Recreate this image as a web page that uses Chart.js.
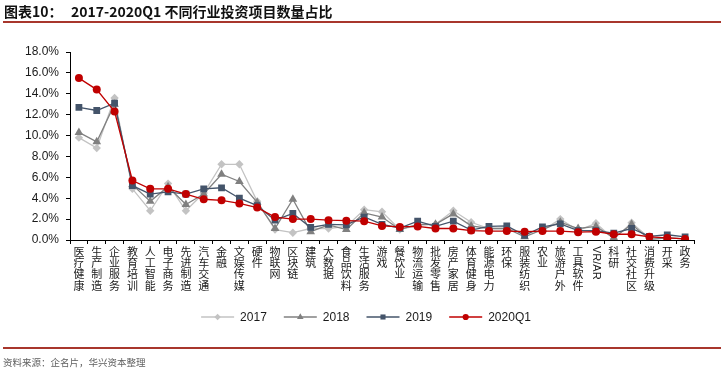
<!DOCTYPE html>
<html><head><meta charset="utf-8">
<script src="https://cdn.jsdelivr.net/npm/chart.js@4/dist/chart.umd.min.js"></script>
<style>
html,body{margin:0;padding:0;background:#fff;width:726px;height:376px;overflow:hidden;position:relative;font-family:"Noto Sans CJK SC",sans-serif;}
#c{position:absolute;left:0;top:0;}
.t1{position:absolute;top:2px;left:4px;font-weight:bold;font-size:14px;color:#111;white-space:nowrap;line-height:18px}
.t2{position:absolute;top:2px;left:71px;font-weight:bold;font-size:14px;color:#111;white-space:nowrap;line-height:18px}
.ln{position:absolute;left:3px;width:718px;height:2px;background:#A8362C}
.src{position:absolute;top:355px;left:3px;font-size:9.5px;color:#606060;white-space:nowrap;line-height:14px}
</style></head>
<body>
<canvas id="c" width="726" height="376"></canvas>
<div class="t1">图表10：</div>
<div class="t2">2017-2020Q1 不同行业投资项目数量占比</div>
<div class="ln" style="top:21px"></div>
<div class="ln" style="top:347px"></div>
<div class="src">资料来源：企名片，华兴资本整理</div>
<script>
const categories = ['医疗健康','生产制造','企业服务','教育培训','人工智能','电子商务','先进制造','汽车交通','金融','文娱传媒','硬件','物联网','区块链','建筑','大数据','食品饮料','生活服务','游戏','餐饮业','物流运输','批发零售','房产家居','体育健身','能源电力','环保','服装纺织','农业','旅游户外','工具软件','VR/AR','科研','社交社区','消费升级','开采','政务'];
const seriesNames = ['2017','2018','2019','2020Q1'];
const s2017 = [9.8,8.8,13.6,4.9,2.8,5.4,2.8,4.5,7.25,7.25,3.7,1.0,0.7,1.1,1.1,1.3,2.9,2.7,1.0,1.4,1.5,2.8,1.7,1.1,1.1,0.7,0.9,2.0,0.9,1.6,0.1,1.65,0.2,0.2,0.1];
const s2018 = [10.3,9.4,13.0,5.3,3.7,5.1,3.4,4.4,6.3,5.6,3.6,1.1,3.9,0.8,1.45,1.0,2.6,2.2,1.0,1.5,1.5,2.5,1.35,1.1,1.1,0.3,1.0,1.7,1.1,1.3,0.2,1.5,0.05,0.2,0.1];
const s2019 = [12.7,12.4,13.1,5.2,4.4,4.6,4.4,4.9,5.0,4.0,3.3,1.9,2.55,1.2,1.5,1.45,2.2,1.5,1.15,1.8,1.3,1.8,0.95,1.3,1.35,0.45,1.25,1.55,0.9,0.9,0.65,1.1,0.35,0.5,0.3];
const s2020Q1 = [15.5,14.4,12.3,5.7,4.9,4.9,4.4,3.9,3.8,3.5,3.1,2.2,2.0,2.0,1.9,1.85,1.8,1.35,1.25,1.3,1.1,1.1,0.9,0.85,0.85,0.8,0.85,0.85,0.75,0.8,0.55,0.55,0.3,0.2,0.1];
const yTickLabels = ['0.0%','2.0%','4.0%','6.0%','8.0%','10.0%','12.0%','14.0%','16.0%','18.0%'];

const styles = [
  {color:'#C3C3C3', point:'rectRot', r:4.2, lr:3.2},
  {color:'#808080', point:'triangle', r:5, lr:3.8},
  {color:'#44546A', point:'rect', r:4.8, lr:3.6},
  {color:'#C00000', point:'circle', r:4, lr:3.1}
];
const seriesData = [s2017, s2018, s2019, s2020Q1];

function drawMarker(ctx, style, x, y, r, color){
  ctx.save();
  ctx.fillStyle = color;
  ctx.beginPath();
  if (style === 'circle') { ctx.arc(x, y, r, 0, Math.PI*2); }
  else if (style === 'rect') { const s = r*Math.SQRT1_2; ctx.rect(x-s, y-s, 2*s, 2*s); }
  else if (style === 'rectRot') { ctx.moveTo(x, y-r); ctx.lineTo(x+r, y); ctx.lineTo(x, y+r); ctx.lineTo(x-r, y); ctx.closePath(); }
  else if (style === 'triangle') {
    ctx.moveTo(x, y-r); ctx.lineTo(x + r*Math.sin(Math.PI/3), y + r*0.5); ctx.lineTo(x - r*Math.sin(Math.PI/3), y + r*0.5); ctx.closePath();
  }
  ctx.fill();
  ctx.restore();
}

const xLabelPlugin = {
  id: 'xLabels',
  afterDraw(chart){
    const ctx = chart.ctx, xs = chart.scales.x;
    const top = chart.chartArea.bottom + 6;
    ctx.save();
    ctx.fillStyle = '#1a1a1a';
    categories.forEach((lab, i) => {
      const x = xs.getPixelForValue(i);
      if (/^[\x00-\x7F]+$/.test(lab)) {
        ctx.save();
        ctx.font = '11px "Liberation Sans", Arial, sans-serif';
        ctx.translate(x, top);
        ctx.rotate(Math.PI/2);
        ctx.textAlign = 'left';
        ctx.textBaseline = 'middle';
        ctx.fillText(lab, 0, 0);
        ctx.restore();
      } else {
        ctx.font = '11px "Noto Sans CJK SC", sans-serif';
        ctx.textAlign = 'center';
        ctx.textBaseline = 'middle';
        [...lab].forEach((ch, k) => ctx.fillText(ch, x, top + 5.5 + k*11.3));
      }
    });
    ctx.restore();
  }
};

const legendPlugin = {
  id: 'customLegend',
  afterDraw(chart){
    const ctx = chart.ctx;
    const y = 317, lineLen = 33, gap1 = 6, gap2 = 17;
    ctx.save();
    ctx.font = '12px "Liberation Sans", Arial, sans-serif';
    const widths = seriesNames.map(n => ctx.measureText(n).width);
    let total = 0;
    widths.forEach((w,i) => { total += lineLen + gap1 + w + (i < widths.length-1 ? gap2 : 0); });
    let x = 366 - total/2;
    seriesNames.forEach((n, i) => {
      const st = styles[i];
      ctx.strokeStyle = st.color; ctx.lineWidth = 1.3;
      ctx.beginPath(); ctx.moveTo(x, y); ctx.lineTo(x + lineLen, y); ctx.stroke();
      drawMarker(ctx, st.point, x + lineLen/2, y, st.lr, st.color);
      ctx.fillStyle = '#1a1a1a'; ctx.textAlign = 'left'; ctx.textBaseline = 'middle';
      ctx.fillText(n, x + lineLen + gap1, y + 0.5);
      x += lineLen + gap1 + widths[i] + gap2;
    });
    ctx.restore();
  }
};

const datasets = seriesNames.map((n, i) => ({
  label: n,
  data: seriesData[i],
  borderColor: styles[i].color,
  backgroundColor: styles[i].color,
  pointBackgroundColor: styles[i].color,
  pointBorderColor: styles[i].color,
  pointBorderWidth: 0,
  pointStyle: styles[i].point,
  pointRadius: styles[i].r,
  borderWidth: 1.3,
  tension: 0,
  fill: false,
  order: 3 - i
}));

new Chart(document.getElementById('c'), {
  type: 'line',
  data: { labels: categories, datasets },
  options: {
    responsive: false,
    animation: false,
    devicePixelRatio: 1,
    layout: { padding: { top: 52, right: 32, bottom: 0, left: 0 } },
    plugins: { legend: { display: false }, tooltip: { enabled: false }, title: { display: false } },
    scales: {
      x: {
        type: 'category',
        offset: true,
        afterFit(s){ s.height = 136; },
        grid: { display: true, offset: true, drawOnChartArea: false, drawTicks: true, tickLength: 4, color: '#000', lineWidth: 1 },
        border: { display: true, color: '#000', width: 1 },
        ticks: { display: false }
      },
      y: {
        min: 0, max: 18,
        afterFit(s){ s.width = 70; },
        ticks: { stepSize: 2, padding: 7, color: '#1a1a1a', font: { family: '"Liberation Sans", Arial, sans-serif', size: 12 },
          callback: (v, i) => yTickLabels[i] },
        grid: { display: true, drawOnChartArea: false, drawTicks: true, tickLength: 4, color: '#000', lineWidth: 1 },
        border: { display: true, color: '#000', width: 1 }
      }
    }
  },
  plugins: [xLabelPlugin, legendPlugin]
});
</script>
</body></html>
